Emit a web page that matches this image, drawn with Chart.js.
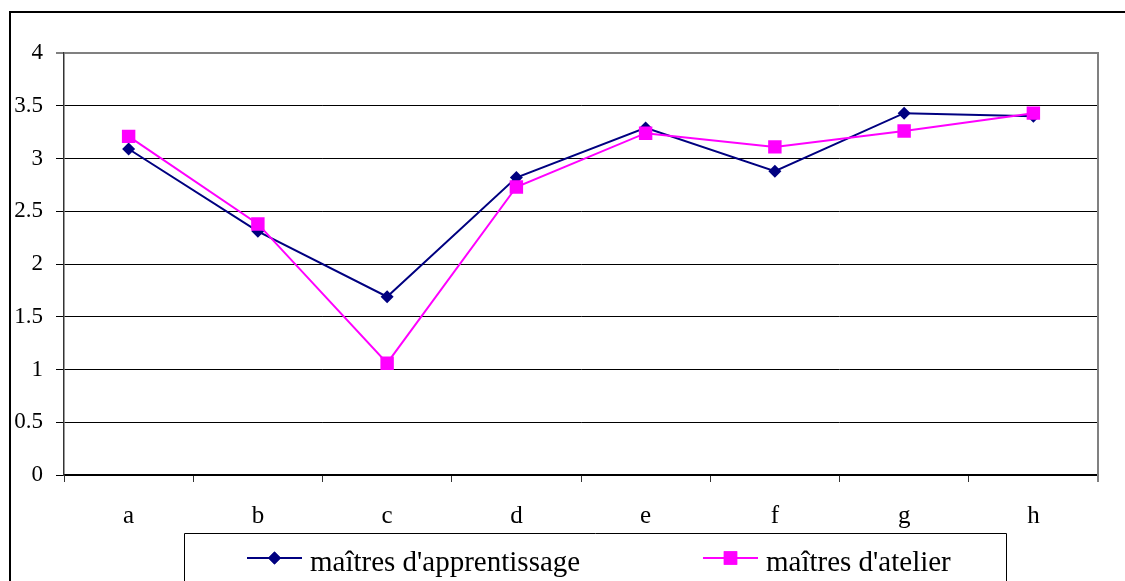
<!DOCTYPE html>
<html>
<head>
<meta charset="utf-8">
<script src="https://cdn.jsdelivr.net/npm/chart.js@4.4.1/dist/chart.umd.min.js"></script>
<style>
html,body{margin:0;padding:0;background:#fff;}
#wrap{width:1125px;height:581px;position:relative;}
</style>
</head>
<body>
<div id="wrap"><canvas id="c" width="1125" height="581"></canvas></div>
<script>
const categories = ['a','b','c','d','e','f','g','h'];
const seriesNames = ["maîtres d'apprentissage", "maîtres d'atelier"];
const apprentissage = [3.09, 2.31, 1.69, 2.82, 3.29, 2.88, 3.43, 3.40];
const atelier = [3.21, 2.38, 1.06, 2.73, 3.24, 3.11, 3.26, 3.43];
const yTicks = [0, 0.5, 1, 1.5, 2, 2.5, 3, 3.5, 4];

const FONT = "'Liberation Serif', 'Times New Roman', serif";
const NAVY = '#000080';
const PINK = '#FF00FF';

const framePlugin = {
  id: 'frame',
  beforeDraw(chart) {
    const ctx = chart.ctx;
    ctx.save();
    ctx.fillStyle = '#fff';
    ctx.fillRect(0, 0, chart.width, chart.height);
    ctx.fillStyle = '#000';
    ctx.fillRect(9, 11, 2, chart.height - 11);
    ctx.fillRect(9, 11, chart.width - 9, 2);
    ctx.restore();
  },
  afterDraw(chart) {
    const ctx = chart.ctx;
    const a = chart.chartArea;
    ctx.save();
    // right border of plot area
    ctx.strokeStyle = '#808080';
    ctx.lineWidth = 2;
    ctx.beginPath();
    ctx.moveTo(a.right, a.top - 1);
    ctx.lineTo(a.right, a.bottom + 7);
    ctx.stroke();
    // legend box
    const lx = 184.5, ly = 533.5, rx = 1006.5;
    ctx.strokeStyle = '#000';
    ctx.lineWidth = 1;
    ctx.beginPath();
    ctx.moveTo(lx, chart.height);
    ctx.lineTo(lx, ly);
    ctx.lineTo(rx, ly);
    ctx.lineTo(rx, chart.height);
    ctx.stroke();
    // legend items
    const items = [
      {x: 247, tx: 310, color: NAVY, style: 'rectRot', r: 6.5},
      {x: 703, tx: 766, color: PINK, style: 'rect', r: 9.5}
    ];
    const yy = 558;
    items.forEach((it, i) => {
      ctx.strokeStyle = it.color;
      ctx.lineWidth = 2;
      ctx.beginPath();
      ctx.moveTo(it.x, yy);
      ctx.lineTo(it.x + 55, yy);
      ctx.stroke();
      ctx.fillStyle = it.color;
      Chart.helpers.drawPoint(ctx, {pointStyle: it.style, radius: it.r, rotation: 0, borderWidth: 0}, it.x + 27.5, yy);
      ctx.fill();
      ctx.fillStyle = '#000';
      ctx.font = "29px " + FONT;
      ctx.textAlign = 'left';
      ctx.textBaseline = 'alphabetic';
      ctx.fillText(chart.data.datasets[i].label, it.tx, 571);
    });
    ctx.restore();
  }
};

new Chart(document.getElementById('c'), {
  type: 'line',
  data: {
    labels: categories,
    datasets: [
      {
        label: seriesNames[0],
        data: apprentissage,
        borderColor: NAVY,
        backgroundColor: NAVY,
        borderWidth: 2,
        pointStyle: 'rectRot',
        pointRadius: 6.5,
        pointBorderWidth: 0,
        pointBackgroundColor: NAVY,
        tension: 0,
        order: 1
      },
      {
        label: seriesNames[1],
        data: atelier,
        borderColor: PINK,
        backgroundColor: PINK,
        borderWidth: 2,
        pointStyle: 'rect',
        pointRadius: 9.5,
        pointBorderWidth: 0,
        pointBackgroundColor: PINK,
        tension: 0,
        order: 0
      }
    ]
  },
  options: {
    responsive: false,
    animation: false,
    devicePixelRatio: 1,
    layout: { padding: { left: 0, top: 53, right: 27, bottom: 46 } },
    plugins: {
      legend: { display: false },
      tooltip: { enabled: false }
    },
    scales: {
      x: {
        offset: true,
        afterFit(scale) { scale.height = 60; },
        grid: {
          offset: true,
          drawOnChartArea: false,
          drawTicks: true,
          tickLength: 7,
          color: '#333',
          lineWidth: 1
        },
        border: { color: '#000', width: 1.5 },
        ticks: {
          color: '#000',
          font: { family: FONT, size: 25 },
          padding: 19
        }
      },
      y: {
        min: 0,
        max: 4,
        afterFit(scale) { scale.width = 64; },
        afterBuildTicks(scale) { scale.ticks = yTicks.map(v => ({value: v})); },
        grid: {
          color: (c) => (c.tick && c.tick.value === 4) ? '#808080' : '#000',
          lineWidth: (c) => (c.tick && c.tick.value === 4) ? 2 : 1,
          tickLength: 8,
          drawTicks: true
        },
        border: { color: '#333', width: 1.5 },
        ticks: {
          color: '#000',
          font: { family: FONT, size: 23 },
          padding: 13,
          callback: (v) => String(v)
        }
      }
    }
  },
  plugins: [framePlugin]
});
</script>
</body>
</html>
